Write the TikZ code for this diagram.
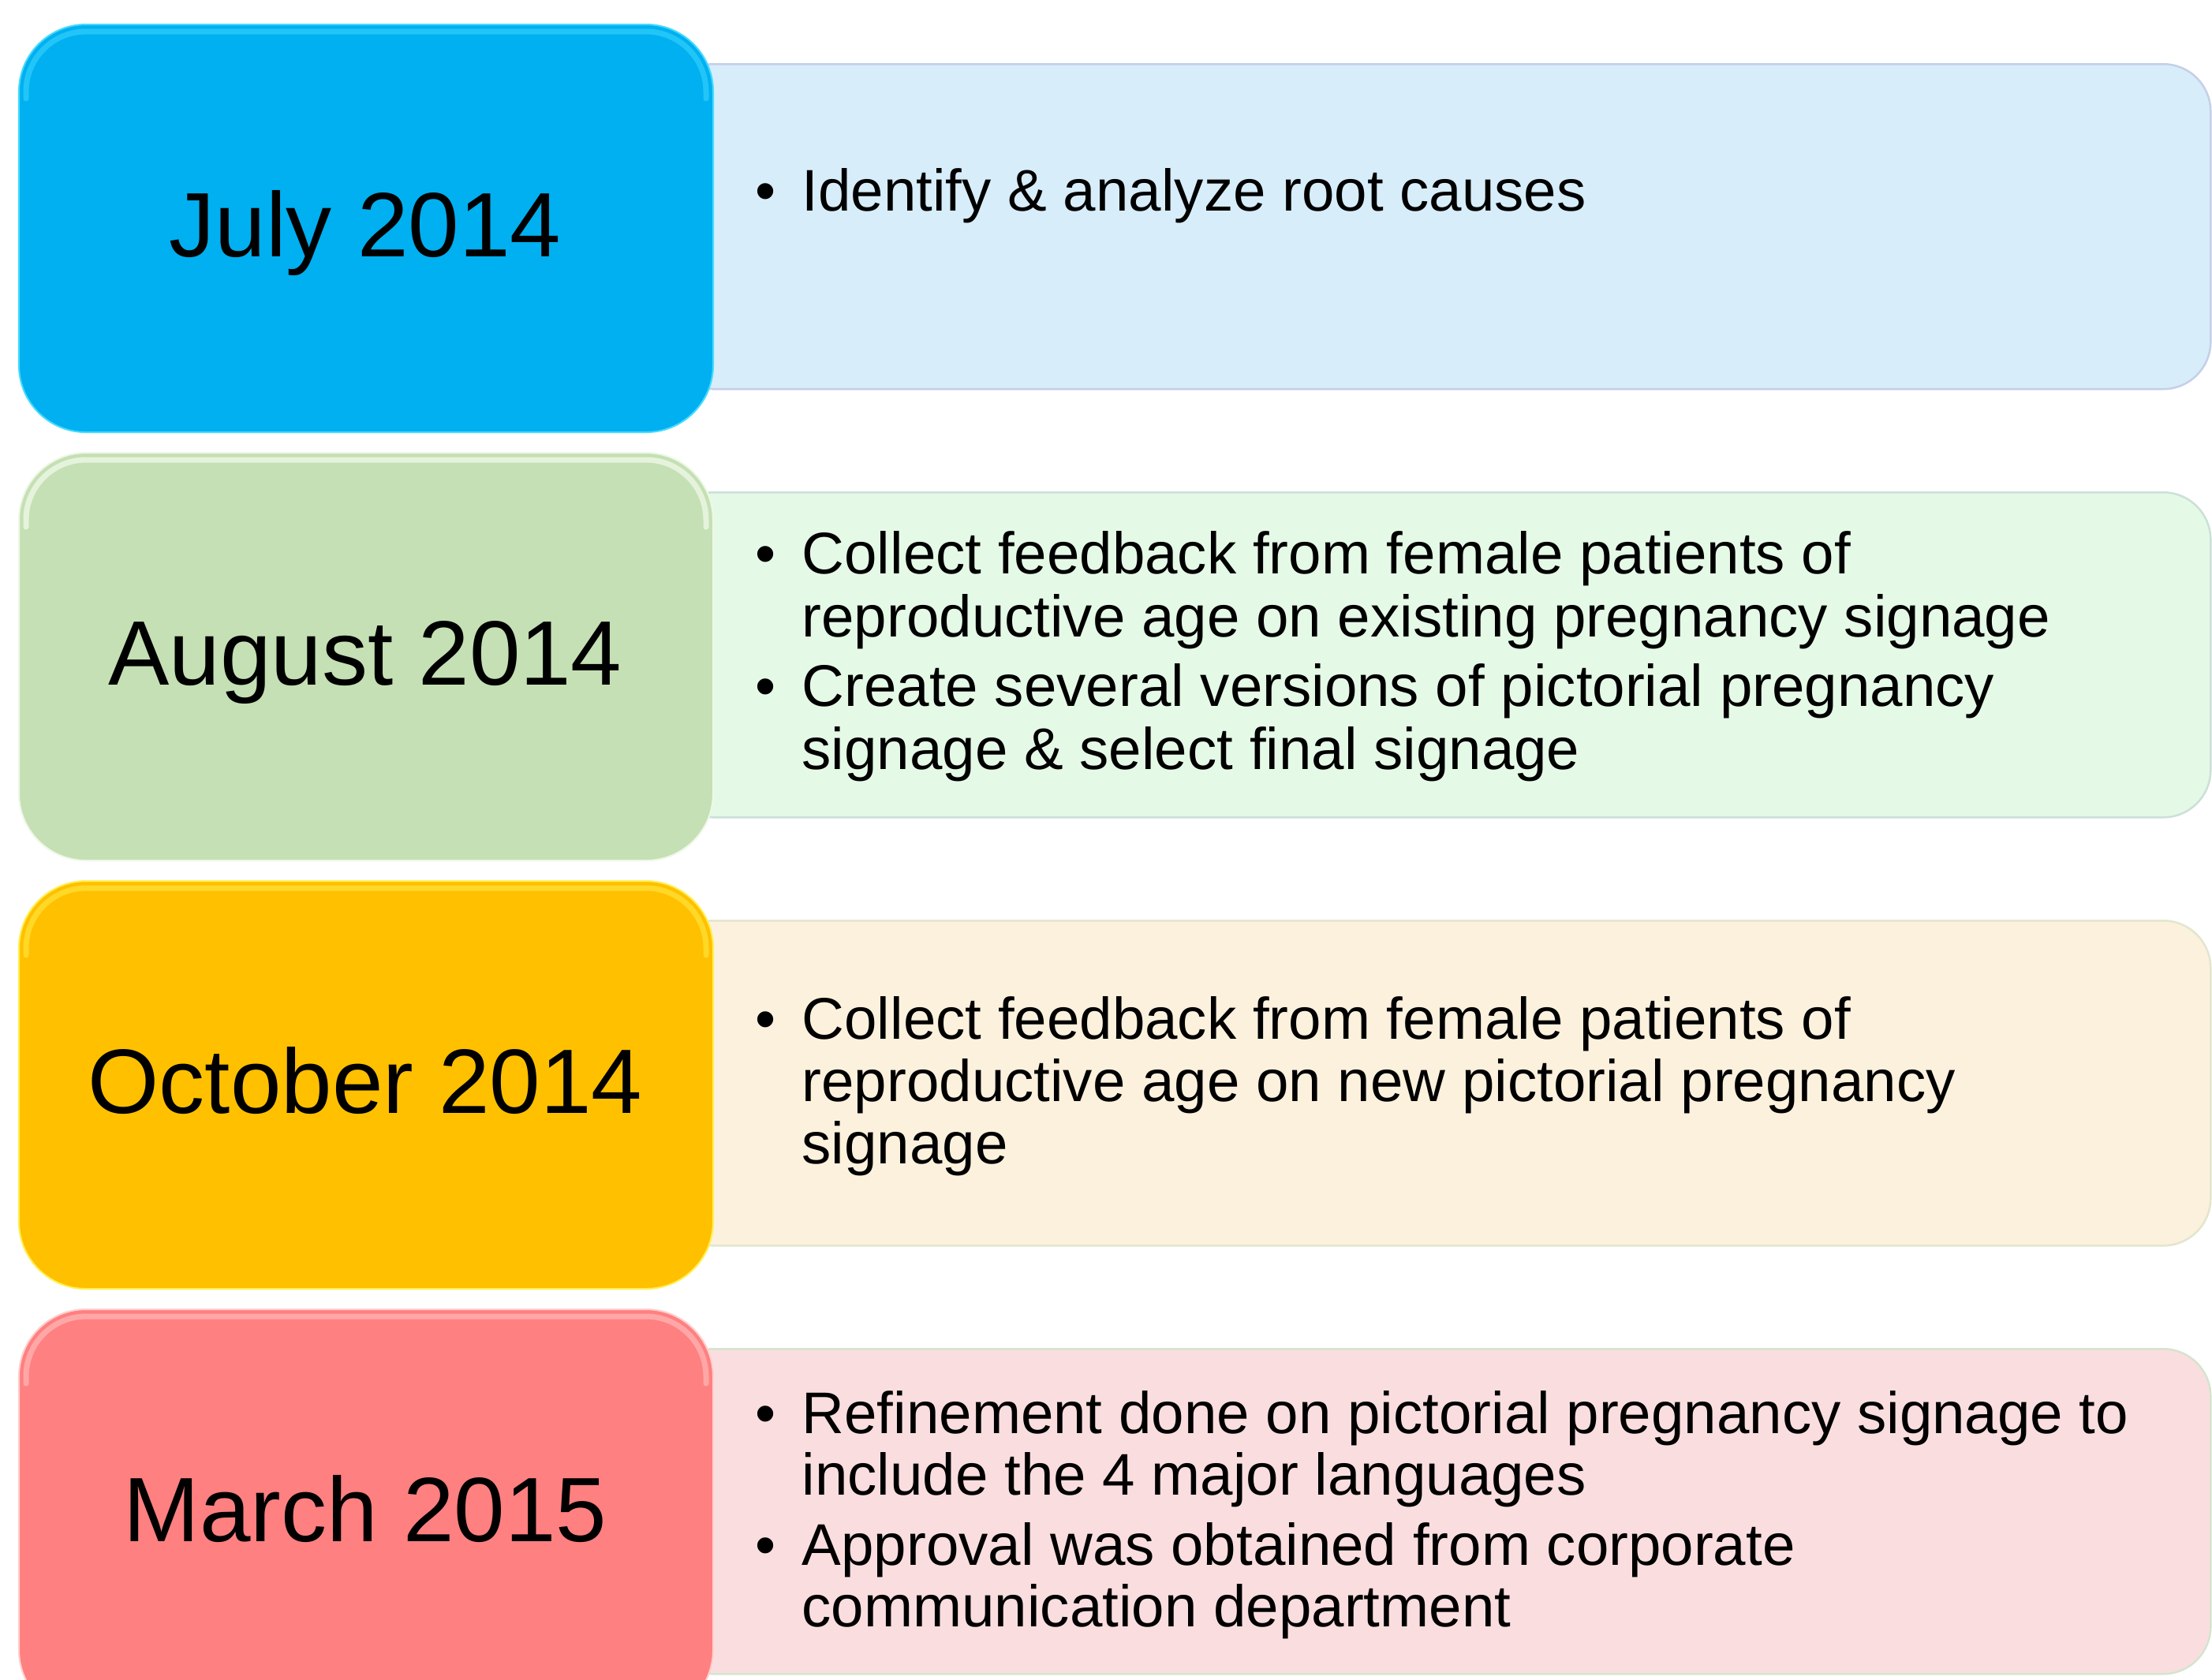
\documentclass[tikz,border=0pt]{standalone}
\usepackage{fontspec}
\setmainfont{Liberation Sans}
\usetikzlibrary{calc}
\definecolor{blueD}{HTML}{00B0F0}
\definecolor{blueL}{HTML}{D7EDFA}
\definecolor{blueB}{HTML}{C6CFE8}
\definecolor{blueH}{HTML}{45DAFF}
\definecolor{greenD}{HTML}{C5E0B4}
\definecolor{greenL}{HTML}{E5F9E7}
\definecolor{greenB}{HTML}{CCE0D8}
\definecolor{greenH}{HTML}{EEF8E6}
\definecolor{orangeD}{HTML}{FFC000}
\definecolor{orangeL}{HTML}{FCF1DD}
\definecolor{orangeB}{HTML}{E2E6CE}
\definecolor{orangeH}{HTML}{FFF050}
\definecolor{redD}{HTML}{FF8080}
\definecolor{redL}{HTML}{FADEDF}
\definecolor{redB}{HTML}{D5E4CE}
\definecolor{redH}{HTML}{FFCFCF}
\begin{document}
\begin{tikzpicture}[x=1cm,y=1cm,
  leftbox/.style={rectangle, rounded corners=0.85cm, minimum width=8.80cm, minimum height=5.17cm, inner sep=0pt, anchor=north west, line width=0.02cm},
  rightbox/.style={rectangle, rounded corners=0.6cm, minimum width=19.58cm, minimum height=4.12cm, inner sep=0pt, anchor=north west, line width=0.025cm},
  datetext/.style={font=\fontsize{33}{40}\selectfont, anchor=base, inner sep=0pt, text=black},
  itemtext/.style={font=\fontsize{21.2}{23}\selectfont, anchor=base west, inner sep=0pt, text=black},
  bul/.style={font=\fontsize{21.2}{23}\selectfont, anchor=base west, inner sep=0pt, text=black},
  gloss/.style={line width=0.07cm, opacity=0.5, rounded corners=0.76cm, line cap=round}
]
\clip (0,0) rectangle (28.04,-21.29);
\fill[white] (0,0) rectangle (28.04,-21.29);

% ---------- row 1: July 2014 ----------
\node[rightbox, fill=blueL, draw=blueB] (R1) at (8.43,-0.80) {};
\node[leftbox, fill=blueD, draw=blueH] (L1) at (0.23,-0.30) {};
\draw[gloss, blueH] ($(L1.north west)+(0.10,-0.95)$) -- ($(L1.north west)+(0.10,-0.10)$) -- ($(L1.north east)+(-0.10,-0.10)$) -- ($(L1.north east)+(-0.10,-0.95)$);
\node[datetext] (D1) at (4.63,-3.25) {July 2014};
\node[bul] (B1a) at (9.57,-2.67) {\textbullet};
\node[itemtext] (T1a) at (10.16,-2.67) {Identify \& analyze root causes};

% ---------- row 2: August 2014 ----------
\node[rightbox, fill=greenL, draw=greenB] (R2) at (8.43,-6.23) {};
\node[leftbox, fill=greenD, draw=greenH] (L2) at (0.23,-5.73) {};
\draw[gloss, greenH, opacity=0.8] ($(L2.north west)+(0.10,-0.95)$) -- ($(L2.north west)+(0.10,-0.10)$) -- ($(L2.north east)+(-0.10,-0.10)$) -- ($(L2.north east)+(-0.10,-0.95)$);
\node[datetext] (D2) at (4.63,-8.68) {August 2014};
\node[bul] (B2a) at (9.57,-7.27) {\textbullet};
\node[itemtext] (T2a) at (10.16,-7.27) {Collect feedback from female patients of};
\node[itemtext] (T2b) at (10.16,-8.07) {reproductive age on existing pregnancy signage};
\node[bul] (B2b) at (9.57,-8.95) {\textbullet};
\node[itemtext] (T2c) at (10.16,-8.95) {Create several versions of pictorial pregnancy};
\node[itemtext] (T2d) at (10.16,-9.75) {signage \& select final signage};

% ---------- row 3: October 2014 ----------
\node[rightbox, fill=orangeL, draw=orangeB] (R3) at (8.43,-11.66) {};
\node[leftbox, fill=orangeD, draw=orangeH] (L3) at (0.23,-11.16) {};
\draw[gloss, orangeH] ($(L3.north west)+(0.10,-0.95)$) -- ($(L3.north west)+(0.10,-0.10)$) -- ($(L3.north east)+(-0.10,-0.10)$) -- ($(L3.north east)+(-0.10,-0.95)$);
\node[datetext] (D3) at (4.63,-14.11) {October 2014};
\node[bul] (B3a) at (9.57,-13.17) {\textbullet};
\node[itemtext] (T3a) at (10.16,-13.17) {Collect feedback from female patients of};
\node[itemtext] (T3b) at (10.16,-13.96) {reproductive age on new pictorial pregnancy};
\node[itemtext] (T3c) at (10.16,-14.75) {signage};

% ---------- row 4: March 2015 ----------
\node[rightbox, fill=redL, draw=redB] (R4) at (8.43,-17.09) {};
\node[leftbox, fill=redD, draw=redH] (L4) at (0.23,-16.59) {};
\draw[gloss, redH] ($(L4.north west)+(0.10,-0.95)$) -- ($(L4.north west)+(0.10,-0.10)$) -- ($(L4.north east)+(-0.10,-0.10)$) -- ($(L4.north east)+(-0.10,-0.95)$);
\node[datetext] (D4) at (4.63,-19.54) {March 2015};
\node[bul] (B4a) at (9.57,-18.17) {\textbullet};
\node[itemtext] (T4a) at (10.16,-18.17) {Refinement done on pictorial pregnancy signage to};
\node[itemtext] (T4b) at (10.16,-18.95) {include the 4 major languages};
\node[bul] (B4b) at (9.57,-19.84) {\textbullet};
\node[itemtext] (T4c) at (10.16,-19.84) {Approval was obtained from corporate};
\node[itemtext] (T4d) at (10.16,-20.62) {communication department};
\end{tikzpicture}
\end{document}
